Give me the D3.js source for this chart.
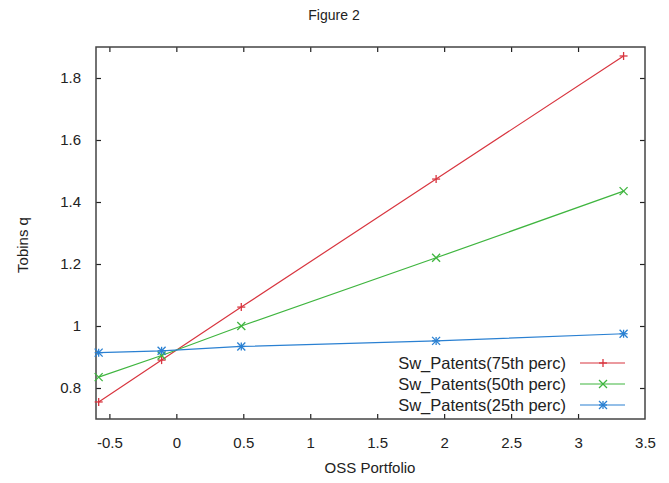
<!DOCTYPE html>
<html><head><meta charset="utf-8">
<script src="https://cdn.jsdelivr.net/npm/d3@7"></script>
<style>body{margin:0;background:#fff}svg{display:block}text{font-family:"Liberation Sans",Arial,sans-serif;fill:#222}</style>
</head><body>
<script>
const title = "Figure 2";
const xLabel = "OSS Portfolio";
const yLabel = "Tobins q";
const xValues = [-0.58, -0.11, 0.485, 1.94, 3.34];
const seriesNames = ["Sw_Patents(75th perc)", "Sw_Patents(50th perc)", "Sw_Patents(25th perc)"];
const seriesColors = ["#d8353f", "#3fb53f", "#2a80d2"];
const seriesMarkers = ["plus", "cross", "star"];
const red75 = [0.755, 0.89, 1.061, 1.474, 1.871];
const green50 = [0.835, 0.905, 1.0, 1.22, 1.435];
const blue25 = [0.914, 0.92, 0.934, 0.952, 0.975];
const xTicks = [-0.5, 0, 0.5, 1, 1.5, 2, 2.5, 3, 3.5];
const yTicks = [0.8, 1, 1.2, 1.4, 1.6, 1.8];
const seriesValues = [red75, green50, blue25];

const W = 669, H = 483;
const L = 96, R = 645, T = 47, B = 419;
const svg = d3.select("body").append("svg").attr("width", W).attr("height", H);
const x = d3.scaleLinear().domain([-0.6, 3.5]).range([L, R]);
const y = d3.scaleLinear().domain([0.7, 1.9]).range([B, T]);

svg.append("text").attr("x", 334).attr("y", 20).attr("text-anchor", "middle").style("font-size", "14px").text(title);

const fmt = d => String(d);
const gb = svg.append("g").attr("transform", `translate(0,${B})`)
  .call(d3.axisBottom(x).tickValues(xTicks).tickFormat(fmt).tickSizeInner(-5).tickSizeOuter(0).tickPadding(18));
const gt = svg.append("g").attr("transform", `translate(0,${T})`)
  .call(d3.axisTop(x).tickValues(xTicks).tickFormat("").tickSizeInner(-5).tickSizeOuter(0));
const gl = svg.append("g").attr("transform", `translate(${L},0)`)
  .call(d3.axisLeft(y).tickValues(yTicks).tickFormat(fmt).tickSizeInner(-5).tickSizeOuter(0).tickPadding(15));
const gr = svg.append("g").attr("transform", `translate(${R},0)`)
  .call(d3.axisRight(y).tickValues(yTicks).tickFormat("").tickSizeInner(-5).tickSizeOuter(0));
[gb, gt, gl, gr].forEach(g => {
  g.select(".domain").remove();
  g.selectAll(".tick line").attr("stroke", "#222").attr("stroke-width", 1.2);
  g.selectAll(".tick text").style("font-size", "15px").attr("fill", "#222");
});
gb.selectAll(".tick line").filter(d => d === 3.5).remove();
gt.selectAll(".tick line").filter(d => d === 3.5).remove();

svg.append("rect").attr("x", L).attr("y", T).attr("width", R - L).attr("height", B - T)
  .attr("fill", "none").attr("stroke", "#444").attr("stroke-width", 1.5);

svg.append("text").attr("transform", `translate(28,245) rotate(-90)`)
  .attr("text-anchor", "middle").style("font-size", "15px").text(yLabel);
svg.append("text").attr("x", 370).attr("y", 473).attr("text-anchor", "middle")
  .style("font-size", "15px").text(xLabel);

function marker(g, type, cx, cy, color) {
  const s = 4;
  const p = [];
  if (type === "plus" || type === "star") { p.push([cx - s, cy, cx + s, cy], [cx, cy - s, cx, cy + s]); }
  if (type === "cross" || type === "star") { p.push([cx - s, cy - s, cx + s, cy + s], [cx - s, cy + s, cx + s, cy - s]); }
  p.forEach(q => g.append("line").attr("x1", q[0]).attr("y1", q[1]).attr("x2", q[2]).attr("y2", q[3])
    .attr("stroke", color).attr("stroke-width", 1.3));
}

const line = d3.line().x((d, i) => x(xValues[i])).y(d => y(d));
seriesValues.forEach((vals, k) => {
  const g = svg.append("g");
  g.append("path").datum(vals).attr("d", line).attr("fill", "none")
    .attr("stroke", seriesColors[k]).attr("stroke-width", 1.2);
  vals.forEach((v, i) => marker(g, seriesMarkers[k], x(xValues[i]), y(v), seriesColors[k]));
});

seriesNames.forEach((n, k) => {
  const ly = 363 + k * 21;
  svg.append("text").attr("x", 566).attr("y", ly + 6).attr("text-anchor", "end")
    .style("font-size", "16.5px").text(n);
  svg.append("line").attr("x1", 580).attr("x2", 625).attr("y1", ly).attr("y2", ly)
    .attr("stroke", seriesColors[k]).attr("stroke-width", 1.2);
  marker(svg, seriesMarkers[k], 603, ly, seriesColors[k]);
});
</script>
</body></html>
